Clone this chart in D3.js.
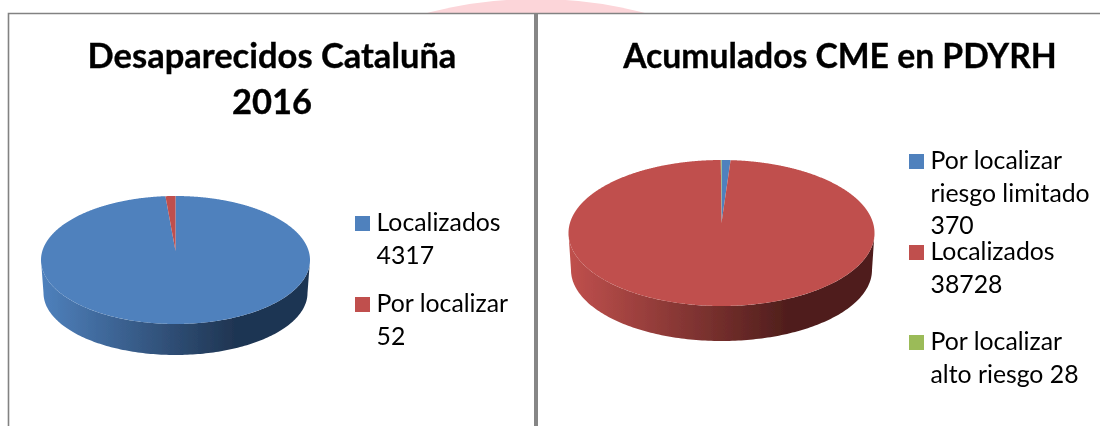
<!DOCTYPE html>
<html>
<head>
<meta charset="utf-8">
<script src="https://cdn.jsdelivr.net/npm/d3@7"></script>
<style>
  html, body { margin: 0; padding: 0; background: #fff; }
  svg { display: block; }
  text { font-family: Lato, "Open Sans", sans-serif; fill: #000; }
</style>
</head>
<body>
<div id="chart"></div>
<script>
// left chart
const catalunaLabels = [["Localizados", "4317"], ["Por localizar", "52"]];
const catalunaValues = [4317, 52];
const catalunaTitle = ["Desaparecidos Cataluña", "2016"];

// right chart
const pdyrhLabels = [["Por localizar", "riesgo limitado", "370"], ["Localizados", "38728"], ["Por localizar", "alto riesgo 28"]];
const pdyrhValues = [370, 38728, 28];
const pdyrhTitle = ["Acumulados CME en PDYRH"];

const colors = ["#4f81bd", "#c0504d", "#9bbb59"];

let height = 426,
    width = 1100;

const svg = d3.select("#chart")
  .append("svg")
  .attr("width", width)
  .attr("height", height)
  .attr("viewBox", [0, 0, width, height]);

const defs = svg.append("defs");
defs.append("filter").attr("id", "soft")
  .append("feGaussianBlur").attr("stdDeviation", 0.35);

// pink shape behind the slide, only its top shows above the frame
svg.append("circle")
  .attr("cx", 536).attr("cy", 430).attr("r", 431)
  .attr("fill", "#fcd5d9");

svg.append("rect")
  .attr("x", 0).attr("y", 14).attr("width", width).attr("height", height - 14)
  .attr("fill", "#fff");

const root = svg.append("g").attr("filter", "url(#soft)");

// frame
root.append("path")
  .attr("d", `M8.5,426V13.5H${width}`)
  .attr("fill", "none")
  .attr("stroke", "#828282")
  .attr("stroke-width", 1.6);

root.append("rect")
  .attr("x", 534).attr("y", 14).attr("width", 4).attr("height", height - 14)
  .attr("fill", "#868686");

function drawChart(opt) {
  const g = root.append("g");
  const p = opt.pie;

  const pie = d3.pie().sort(null)(opt.values);
  const colorScale = d3.scaleOrdinal().domain(d3.range(opt.values.length)).range(colors);

  const onTop = a => [p.cx + p.rx * Math.sin(a), p.cy - p.ry * Math.cos(a)];
  const onBottom = a => [p.cx + p.brx * Math.sin(a), p.bcy - p.bry * Math.cos(a)];
  const line = d3.line();

  // side wall, lit from the left
  const gradId = "side" + opt.id;
  const grad = defs.append("linearGradient").attr("id", gradId);
  grad.selectAll("stop")
    .data([[0, colors[opt.front]], [0.72, opt.dark], [1, opt.dark]])
    .join("stop")
    .attr("offset", d => d[0])
    .attr("stop-color", d => d[1]);

  const frontAngles = d3.range(Math.PI / 2, Math.PI * 1.5 + 0.001, 0.02);
  g.append("path")
    .attr("d", line(frontAngles.map(onBottom).concat(frontAngles.slice().reverse().map(onTop))) + "Z")
    .attr("fill", `url(#${gradId})`);

  // top face, slices meet at the perspective apex
  g.selectAll("path.slice")
    .data(pie)
    .join("path")
    .attr("class", "slice")
    .attr("fill", (d, i) => colorScale(i))
    .attr("d", d => {
      const angles = d3.range(d.startAngle, d.endAngle, 0.005).concat(d.endAngle);
      return line([[p.cx, p.apexY]].concat(angles.map(onTop))) + "Z";
    });

  // title
  g.append("g").selectAll("text")
    .data(opt.title)
    .join("text")
    .attr("x", opt.titleX)
    .attr("y", (d, i) => 68 + i * 46)
    .attr("text-anchor", "middle")
    .attr("font-size", opt.titleSize)
    .attr("font-weight", 700)
    .attr("stroke", "#000")
    .attr("stroke-width", 0.35)
    .text(d => d);

  // legend
  const items = g.append("g").selectAll("g")
    .data(opt.labels)
    .join("g")
    .attr("transform", (d, i) => `translate(${opt.legendX},${opt.legendY[i]})`);

  items.append("rect")
    .attr("y", -15).attr("width", 15).attr("height", 15)
    .attr("fill", (d, i) => colorScale(i));

  items.selectAll("text")
    .data(d => d)
    .join("text")
    .attr("x", 21.5)
    .attr("y", (d, i) => i * 32.7)
    .attr("font-size", 24.8)
    .text(d => d);
}

drawChart({
  id: "a",
  values: catalunaValues,
  labels: catalunaLabels,
  title: catalunaTitle,
  titleX: 272,
  titleSize: 34.5,
  front: 0,
  dark: "#1f3552",
  pie: { cx: 175.5, cy: 260, rx: 134.5, ry: 64, apexY: 251, brx: 132, bry: 62, bcy: 293 },
  legendX: 355,
  legendY: [231, 312]
});

drawChart({
  id: "b",
  values: pdyrhValues,
  labels: pdyrhLabels,
  title: pdyrhTitle,
  titleX: 840,
  titleSize: 33.7,
  front: 1,
  dark: "#4f1e1c",
  pie: { cx: 721.5, cy: 233, rx: 153, ry: 73, apexY: 223, brx: 150.5, bry: 71, bcy: 270 },
  legendX: 909,
  legendY: [169, 260, 350]
});
</script>
</body>
</html>
